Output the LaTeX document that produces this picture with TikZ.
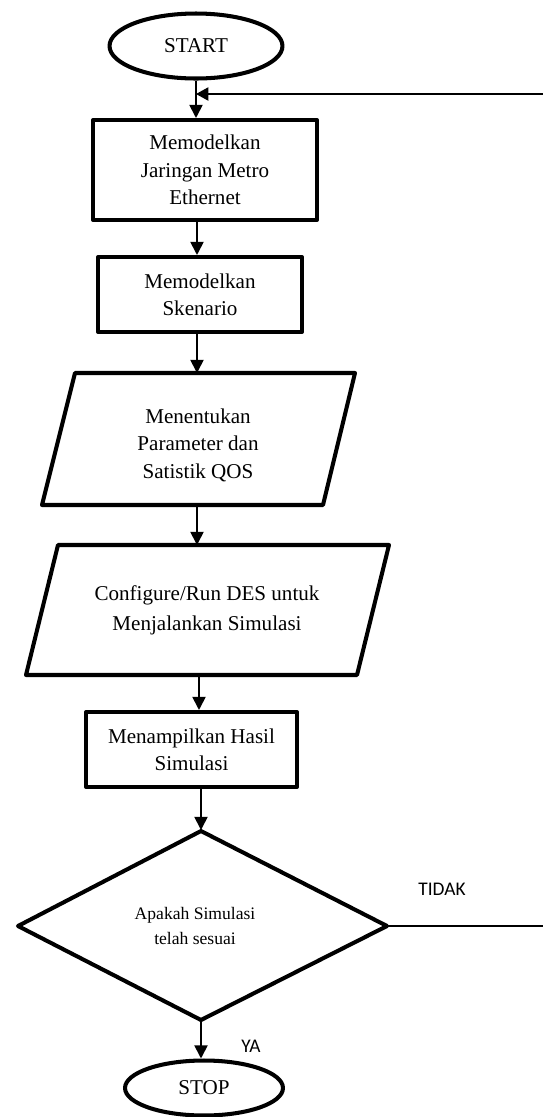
\documentclass[tikz,border=0pt]{standalone}
\usepackage{fontspec}
\setmainfont{Liberation Serif}
\newfontfamily\calibrifont{Carlito}
\usetikzlibrary{shapes.geometric,arrows.meta}
\begin{document}
\begin{tikzpicture}[x=0.02cm,y=-0.02cm,
  shapeline/.style={draw=black,line width=2.3pt,line join=round},
  procbox/.style={shapeline,rectangle,inner sep=0pt,align=center,font=\fontsize{12}{15.6}\selectfont},
  term/.style={shapeline,ellipse,inner sep=0pt,font=\fontsize{12}{14}\selectfont},
  lbl/.style={align=center,inner sep=0pt,font=\fontsize{12}{15.6}\selectfont},
  arr/.style={line width=1pt,-{Triangle[length=7.5pt,width=7.5pt]}},
  cond/.style={font=\calibrifont\fontsize{11}{13}\selectfont,inner sep=0pt}]
\useasboundingbox (0,0) rectangle (543,1117);
\clip (0,0) rectangle (543,1117);

% nodes
\node[term,minimum width=3.46cm,minimum height=1.3cm] (start) at (196,46) {START};
\node[procbox,minimum width=4.48cm,minimum height=2cm] (model) at (205,170) {Memodelkan\\Jaringan Metro\\Ethernet};
\node[procbox,minimum width=4.08cm,minimum height=1.5cm] (skenario) at (200,294.5) {Memodelkan\\Skenario};

\draw[shapeline] (75,373) -- (355,373) -- (323,505) -- (42,505) -- cycle;
\node[lbl] (param) at (198,445) {Menentukan\\Parameter dan\\Satistik QOS};
\coordinate (p1top) at (197,373);
\coordinate (p1bot) at (197,505);

\draw[shapeline] (58,545) -- (389,545) -- (357,675) -- (26,675) -- cycle;
\node[lbl,font=\fontsize{12}{17}\selectfont] (des) at (207,610) {Configure/Run DES untuk\\Menjalankan Simulasi};
\coordinate (p2top) at (197,545);
\coordinate (p2bot) at (199,675);

\node[procbox,minimum width=4.22cm,minimum height=1.5cm] (hasil) at (191.5,749.5) {Menampilkan Hasil\\Simulasi};
\draw[shapeline] (18,926) -- (201,831) -- (387,926) -- (201,1020) -- cycle;
\node[lbl,font=\fontsize{10}{14.2}\selectfont] (cek) at (195,926) {Apakah Simulasi\\telah sesuai};
\coordinate (dtop) at (201,830);
\coordinate (dbot) at (201,1020);
\coordinate (dright) at (387,926);
\node[term,minimum width=3.16cm,minimum height=1.1cm] (stop) at (204,1088) {STOP};

\node[cond] (tidak) at (442,889) {TIDAK};
\node[cond] (ya) at (251,1046) {YA};

% connectors
\coordinate (axis) at (197,0);
\coordinate (axisb) at (199,0);
\coordinate (junc) at (196,94);
\coordinate (loopdown) at (548,926);
\coordinate (loopup) at (548,94);

\draw[arr] (start.south) -- (start.south |- model.north);
\draw[arr] (model.south -| axis) -- (skenario.north -| axis);
\draw[arr] (skenario.south -| axis) -- (p1top);
\draw[arr] (p1bot) -- (p2top);
\draw[arr] (p2bot) -- (hasil.north -| axisb);
\draw[arr] (hasil.south -| dtop) -- (dtop);
\draw[arr] (dbot) -- (dbot |- stop.north);
\draw[line width=0.8pt,-{Triangle[length=7pt,width=7.5pt]}] (dright) -- (loopdown) -- (loopup) -- (junc);
\end{tikzpicture}
\end{document}
